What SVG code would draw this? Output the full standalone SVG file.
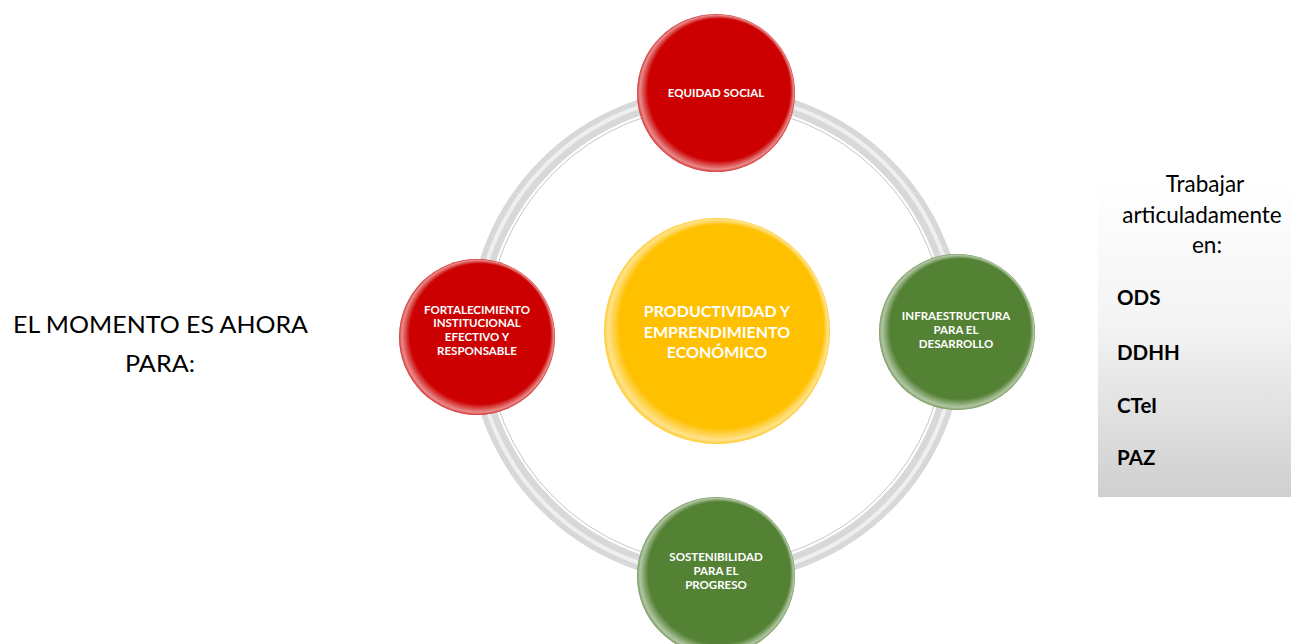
<svg xmlns="http://www.w3.org/2000/svg" width="1291" height="644" viewBox="0 0 1291 644">
<defs>
<style>
.lbl{font-family:Lato,"Open Sans","Liberation Sans",sans-serif;font-weight:bold;fill:#ffffff;text-anchor:middle;font-size:11.5px}
.ctr{font-family:Lato,"Open Sans","Liberation Sans",sans-serif;font-weight:bold;fill:#ffffff;text-anchor:middle;font-size:16px}
.side{font-family:Lato,"Open Sans","Liberation Sans",sans-serif;fill:#000000;font-size:22.5px}
.bold{font-weight:bold;font-size:20.5px}
</style>
<radialGradient id="rim" cx="0.5" cy="0.5" r="0.5" fx="0.7" fy="0.3">
<stop offset="0" stop-color="#ffffff" stop-opacity="0"/>
<stop offset="0.9" stop-color="#ffffff" stop-opacity="0"/>
<stop offset="0.975" stop-color="#ffffff" stop-opacity="0.55"/>
<stop offset="1" stop-color="#ffffff" stop-opacity="0.2"/>
</radialGradient>
<linearGradient id="boxg" x1="0" y1="0" x2="0" y2="1">
<stop offset="0" stop-color="#ffffff"/>
<stop offset="0.45" stop-color="#f4f4f4"/>
<stop offset="1" stop-color="#cfcfcf"/>
</linearGradient>
</defs>
<rect width="1291" height="644" fill="#ffffff"/>

<g id="connectors">
<circle cx="716" cy="335" r="240" fill="none" stroke="#d8d8d8" stroke-width="16"/>
<circle cx="716" cy="335" r="240.5" fill="none" stroke="#efefef" stroke-width="4"/>
<circle cx="716" cy="335" r="229.5" fill="none" stroke="#c6c6c6" stroke-width="1"/>
</g>

<g id="node-center">
<circle cx="717" cy="331" r="113" fill="#ffc000"/>
<circle cx="717" cy="331" r="113" fill="url(#rim)"/>
<text class="ctr" x="717" y="317">PRODUCTIVIDAD Y</text>
<text class="ctr" x="717" y="338">EMPRENDIMIENTO</text>
<text class="ctr" x="717" y="358">ECONÓMICO</text>
</g>

<g id="node-equidad">
<circle cx="716" cy="93" r="79" fill="#cc0000"/>
<circle cx="716" cy="93" r="79" fill="url(#rim)"/>
<text class="lbl" x="716" y="97">EQUIDAD SOCIAL</text>
</g>

<g id="node-fortalecimiento">
<circle cx="477" cy="337" r="78" fill="#cc0000"/>
<circle cx="477" cy="337" r="78" fill="url(#rim)"/>
<text class="lbl" x="477" y="314">FORTALECIMIENTO</text>
<text class="lbl" x="477" y="327">INSTITUCIONAL</text>
<text class="lbl" x="477" y="341">EFECTIVO Y</text>
<text class="lbl" x="477" y="355">RESPONSABLE</text>
</g>

<g id="node-infraestructura">
<circle cx="957" cy="332" r="78" fill="#548235"/>
<circle cx="957" cy="332" r="78" fill="url(#rim)"/>
<text class="lbl" x="956" y="320">INFRAESTRUCTURA</text>
<text class="lbl" x="956" y="334">PARA EL</text>
<text class="lbl" x="956" y="348">DESARROLLO</text>
</g>

<g id="node-sostenibilidad">
<circle cx="716" cy="576" r="79" fill="#548235"/>
<circle cx="716" cy="576" r="79" fill="url(#rim)"/>
<text class="lbl" x="716" y="561">SOSTENIBILIDAD</text>
<text class="lbl" x="716" y="575">PARA EL</text>
<text class="lbl" x="716" y="589">PROGRESO</text>
</g>

<g id="left-text">
<text class="side" x="13" y="333" font-size="26" textLength="295" lengthAdjust="spacingAndGlyphs">EL MOMENTO ES AHORA</text>
<text class="side" x="125" y="372" font-size="26" textLength="70" lengthAdjust="spacingAndGlyphs">PARA:</text>
</g>

<g id="right-box">
<rect x="1098" y="178" width="193" height="319" fill="url(#boxg)"/>
<text class="side" x="1205" y="192" text-anchor="middle">Trabajar</text>
<text class="side" x="1202" y="223" text-anchor="middle">articuladamente</text>
<text class="side" x="1207" y="253" text-anchor="middle">en:</text>
<text class="side bold" x="1117" y="305">ODS</text>
<text class="side bold" x="1117" y="360">DDHH</text>
<text class="side bold" x="1117" y="413">CTeI</text>
<text class="side bold" x="1117" y="465">PAZ</text>
</g>
</svg>
